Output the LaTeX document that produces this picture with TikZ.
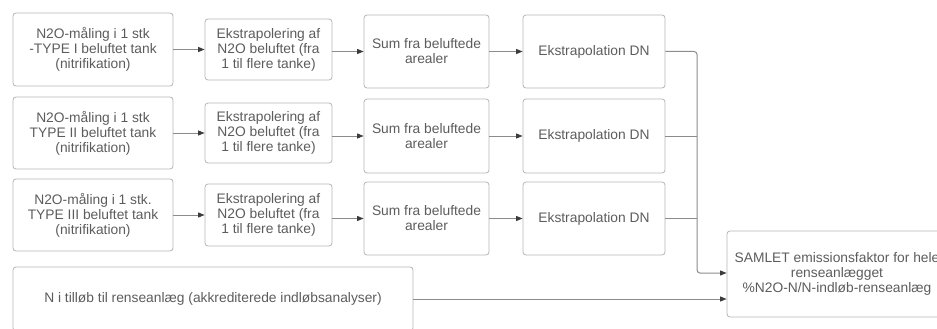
\documentclass[tikz,border=0pt]{standalone}
\usepackage{fontspec}
\setmainfont{Liberation Sans}
\usetikzlibrary{arrows.meta}
\definecolor{boxgray}{HTML}{B4B4B4}
\definecolor{txtgray}{HTML}{5C5C5C}
\definecolor{linegray}{HTML}{8C8C8C}
\definecolor{tipgray}{HTML}{3C3C3C}
\begin{document}
\begin{tikzpicture}[x=1pt,y=-1pt,
  stepbox/.style={draw=boxgray, line width=0.8pt, rounded corners=3pt,
    inner sep=0pt, align=center, text=txtgray,
    font=\fontsize{13.8}{15}\selectfont},
  flow/.style={draw=linegray, line width=1pt,
    -{Triangle[length=6.5pt,width=5pt,color=tipgray]}},
  link/.style={draw=linegray, line width=1pt}]
\useasboundingbox (0,0) rectangle (937,329);

% measurement boxes
\node[stepbox, minimum width=160pt, minimum height=73pt] (a1) at (93,49.5)
  {N2O-måling i 1 stk\\-TYPE I beluftet tank\\(nitrifikation)};
\node[stepbox, minimum width=160pt, minimum height=72pt] (a2) at (93,133)
  {N2O-måling i 1 stk\\TYPE II beluftet tank\\(nitrifikation)};
\node[stepbox, minimum width=160pt, minimum height=72pt] (a3) at (93,215)
  {N2O-måling i 1 stk.\\TYPE III beluftet tank\\(nitrifikation)};

% extrapolation to several tanks
\node[stepbox, minimum width=127pt, minimum height=61pt] (b1) at (268.5,49.5)
  {Ekstrapolering af\\N2O beluftet (fra\\1 til flere tanke)};
\node[stepbox, minimum width=127pt, minimum height=60pt] (b2) at (268.5,133)
  {Ekstrapolering af\\N2O beluftet (fra\\1 til flere tanke)};
\node[stepbox, minimum width=127pt, minimum height=62pt] (b3) at (268.5,215)
  {Ekstrapolering af\\N2O beluftet (fra\\1 til flere tanke)};

% sums over aerated areas
\node[stepbox, minimum width=125pt, minimum height=73pt] (c1) at (426.5,51.5)
  {Sum fra beluftede\\arealer};
\node[stepbox, minimum width=125pt, minimum height=74pt] (c2) at (426.5,136)
  {Sum fra beluftede\\arealer};
\node[stepbox, minimum width=125pt, minimum height=73pt] (c3) at (426.5,218.5)
  {Sum fra beluftede\\arealer};

% extrapolation DN
\node[stepbox, minimum width=142pt, minimum height=73pt] (d1) at (594,51.5)
  {Ekstrapolation DN};
\node[stepbox, minimum width=142pt, minimum height=74pt] (d2) at (594,136)
  {Ekstrapolation DN};
\node[stepbox, minimum width=142pt, minimum height=73pt] (d3) at (594,218.5)
  {Ekstrapolation DN};

% inlet nitrogen and total emission factor
\node[stepbox, minimum width=400pt, minimum height=64pt] (n) at (213,299)
  {N i tilløb til renseanlæg (akkrediterede indløbsanalyser)};
\node[stepbox, minimum width=220pt, minimum height=86pt] (s) at (837,274)
  {SAMLET emissionsfaktor for hele\\renseanlægget\\\%N2O-N/N-indløb-renseanlæg};

% row connectors
\foreach \r in {1,2,3}{
  \draw[flow] (b\r.west -| a\r.east) -- (b\r.west);
  \draw[flow] (c\r.west -| b\r.east) -- (c\r.west);
  \draw[flow] (d\r.west -| c\r.east) -- (d\r.west);
}

% collector into the total
\coordinate (j) at (697,273);
\draw[flow, rounded corners=3pt] (d1.east) -| (j) -- (j -| s.west);
\draw[link] (d2.east) -- (d2.east -| j);
\draw[link] (d3.east) -- (d3.east -| j);
\draw[flow] (n.east) -- (n.east -| s.west);
\end{tikzpicture}
\end{document}
